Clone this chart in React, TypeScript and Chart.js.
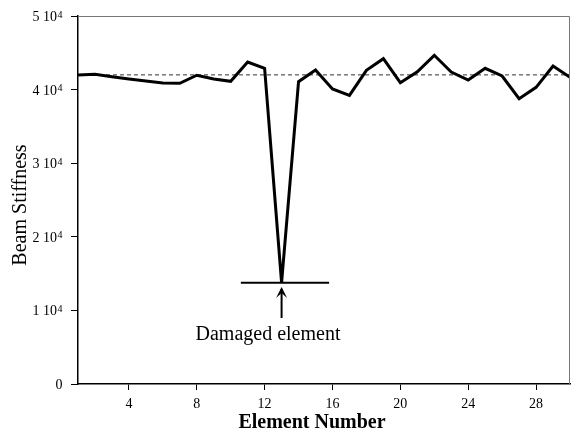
import React, { useEffect, useRef } from "react";
import { Chart, registerables } from "chart.js";

Chart.register(...registerables);

const elementNumbers = [1, 2, 3, 4, 5, 6, 7, 8, 9, 10, 11, 12, 13, 14, 15, 16, 17, 18, 19, 20, 21, 22, 23, 24, 25, 26, 27, 28, 29, 30];
const beamStiffness = [41980, 42100, 41750, 41440, 41170, 40900, 40850, 41950, 41440, 41130, 43750, 42890, 13760, 41080, 42660, 40080, 39220, 42620, 44200, 40940, 42430, 44660, 42390, 41300, 42890, 41850, 38760, 40310, 43200, 41670];
const referenceStiffness = 42000;
const xTickValues = [4, 8, 12, 16, 20, 24, 28];
const yTickValues = [0, 10000, 20000, 30000, 40000, 50000];
const yTickBase = ["0", "1 10", "2 10", "3 10", "4 10", "5 10"];
const yTickExponent = ["", "4", "4", "4", "4", "4"];
const xAxisTitle = "Element Number";
const yAxisTitle = "Beam Stiffness";
const damageMarkerX = [10.6, 15.8];
const damageMarkerY = 13760;
const damagedElement = 13;
const arrowTipY = 13180;
const arrowBaseY = 8970;
const annotationText = "Damaged element";
const annotationX = 12.2;
const annotationY = 6660;

const FONT = "'Liberation Serif', 'Times New Roman', serif";

export default function App() {
  const canvasRef = useRef<HTMLCanvasElement | null>(null);

  useEffect(() => {
    document.body.style.margin = "0";
    const canvas = canvasRef.current;
    if (!canvas) return;

    const decorPlugin = {
      id: "decor",
      afterDatasetsDraw(chart: any) {
        const { ctx, chartArea, scales } = chart;
        const xs = scales.x;
        const ys = scales.y;
        ctx.save();
        // top and right frame
        ctx.strokeStyle = "#777";
        ctx.lineWidth = 1;
        ctx.beginPath();
        ctx.moveTo(chartArea.left, chartArea.top + 0.5);
        ctx.lineTo(chartArea.right - 0.5, chartArea.top + 0.5);
        ctx.lineTo(chartArea.right - 0.5, chartArea.bottom);
        ctx.stroke();

        // y tick labels with superscript exponent
        ctx.fillStyle = "#000";
        ctx.textBaseline = "alphabetic";
        ctx.textAlign = "left";
        const rightEdge = chartArea.left - 15.5;
        yTickValues.forEach((v, i) => {
          const py = ys.getPixelForValue(v);
          ctx.font = `10px ${FONT}`;
          const expW = yTickExponent[i] ? ctx.measureText(yTickExponent[i]).width + 0.5 : 0;
          ctx.font = `14px ${FONT}`;
          const baseW = ctx.measureText(yTickBase[i]).width;
          const startX = rightEdge - expW - baseW;
          ctx.fillText(yTickBase[i], startX, py + 5);
          if (yTickExponent[i]) {
            ctx.font = `10px ${FONT}`;
            ctx.fillText(yTickExponent[i], startX + baseW + 0.5, py + 1.5);
          }
        });

        // axis titles
        ctx.textAlign = "center";
        ctx.textBaseline = "middle";
        ctx.font = `bold 20px ${FONT}`;
        ctx.fillText(xAxisTitle, (chartArea.left + chartArea.right) / 2 - 12, 423);
        ctx.save();
        ctx.translate(21, (chartArea.top + chartArea.bottom) / 2 + 5);
        ctx.rotate(-Math.PI / 2);
        ctx.font = `20px ${FONT}`;
        ctx.fillText(yAxisTitle, 0, 0);
        ctx.restore();

        // arrow
        const ax = xs.getPixelForValue(damagedElement);
        const tip = ys.getPixelForValue(arrowTipY);
        const base = ys.getPixelForValue(arrowBaseY);
        ctx.strokeStyle = "#000";
        ctx.lineWidth = 2;
        ctx.beginPath();
        ctx.moveTo(ax, base);
        ctx.lineTo(ax, tip + 2);
        ctx.stroke();
        ctx.beginPath();
        ctx.moveTo(ax, tip);
        ctx.lineTo(ax - 5.5, tip + 11);
        ctx.lineTo(ax, tip + 6);
        ctx.lineTo(ax + 5.5, tip + 11);
        ctx.closePath();
        ctx.fill();

        // annotation text
        ctx.font = `20px ${FONT}`;
        ctx.textAlign = "center";
        ctx.textBaseline = "middle";
        ctx.fillText(annotationText, xs.getPixelForValue(annotationX), ys.getPixelForValue(annotationY));
        ctx.restore();
      },
    };

    const chart = new Chart(canvas, {
      type: "line",
      data: {
        datasets: [
          {
            label: "Beam Stiffness",
            data: elementNumbers.map((x, i) => ({ x, y: beamStiffness[i] })),
            borderColor: "#000",
            borderWidth: 3,
            borderJoinStyle: "miter",
            pointRadius: 0,
            tension: 0,
            fill: false,
          },
          {
            label: "Reference",
            data: [
              { x: elementNumbers[0], y: referenceStiffness },
              { x: elementNumbers[elementNumbers.length - 1], y: referenceStiffness },
            ],
            borderColor: "#333",
            borderWidth: 1,
            borderDash: [4, 3],
            pointRadius: 0,
            fill: false,
          },
          {
            label: "Damage marker",
            data: damageMarkerX.map((x) => ({ x, y: damageMarkerY })),
            borderColor: "#000",
            borderWidth: 2,
            pointRadius: 0,
            fill: false,
          },
        ],
      },
      options: {
        responsive: false,
        animation: false,
        devicePixelRatio: 1,
        layout: { padding: { top: 16, right: 1, left: 0, bottom: 0 } },
        plugins: {
          legend: { display: false },
          tooltip: { enabled: false },
        },
        scales: {
          x: {
            type: "linear",
            min: 1,
            max: 30,
            afterBuildTicks: (scale: any) => {
              scale.ticks = xTickValues.map((v) => ({ value: v }));
            },
            afterFit: (scale: any) => {
              scale.height = 53;
            },
            grid: {
              drawOnChartArea: false,
              drawTicks: true,
              tickLength: 6,
              color: "#000",
              lineWidth: 1,
            },
            border: { display: true, color: "#000", width: 1.5 },
            ticks: {
              color: "#000",
              font: { family: FONT, size: 14 },
              padding: 6,
              maxRotation: 0,
              autoSkip: false,
            },
            title: { display: false },
          },
          y: {
            type: "linear",
            min: 0,
            max: 50000,
            afterBuildTicks: (scale: any) => {
              scale.ticks = yTickValues.map((v) => ({ value: v }));
            },
            afterFit: (scale: any) => {
              scale.width = 78;
            },
            grid: {
              drawOnChartArea: false,
              drawTicks: true,
              tickLength: 7,
              color: "#000",
              lineWidth: 1,
            },
            border: { display: true, color: "#000", width: 1.5 },
            ticks: {
              display: false,
            },
            title: { display: false },
          },
        },
      },
      plugins: [decorPlugin],
    } as any);

    return () => {
      chart.destroy();
    };
  }, []);

  return (
    <div style={{ position: "absolute", left: 0, top: 0, width: 571, height: 437 }}>
      <canvas ref={canvasRef} width={571} height={437} style={{ width: 571, height: 437, display: "block" }} />
    </div>
  );
}
